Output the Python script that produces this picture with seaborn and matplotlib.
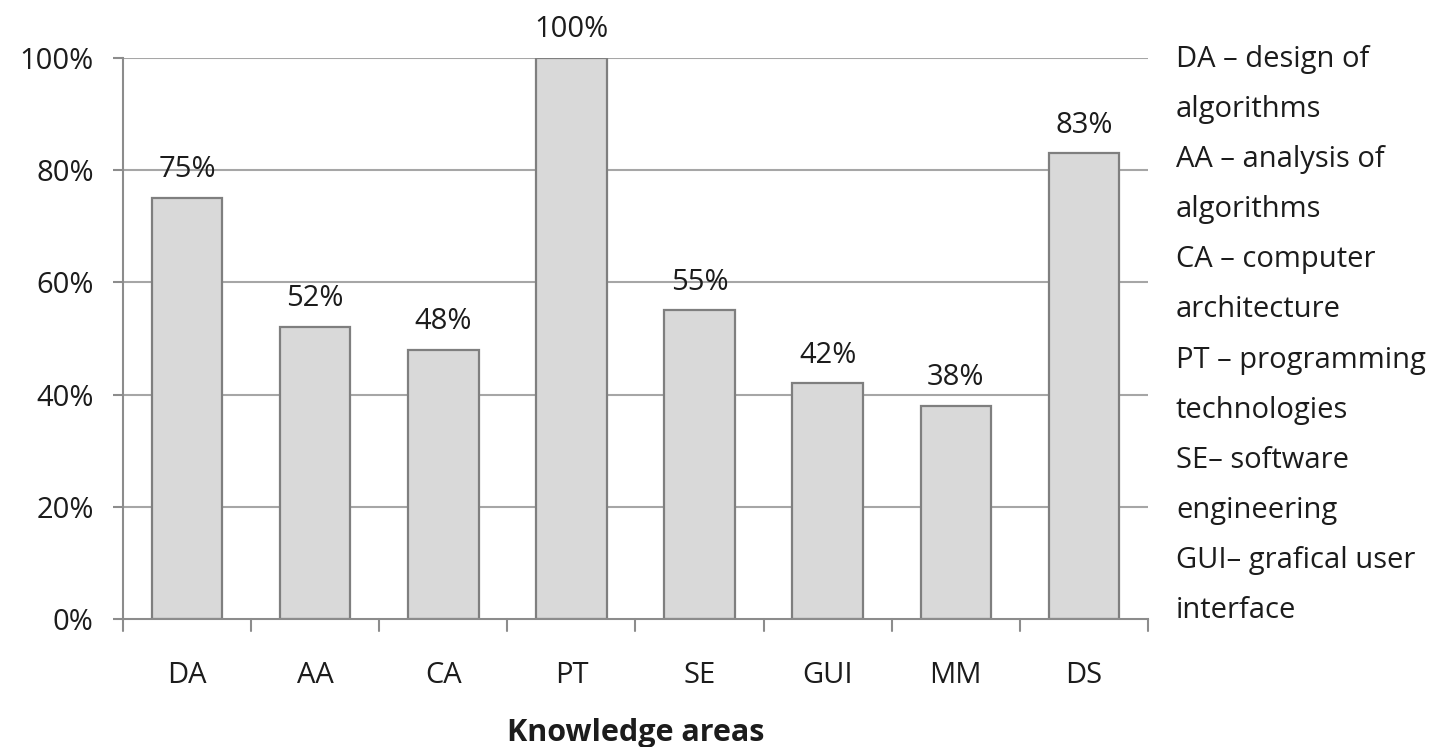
import matplotlib
matplotlib.use("Agg")
import matplotlib.pyplot as plt
import seaborn as sns
import pandas as pd

areas = ["DA", "AA", "CA", "PT", "SE", "GUI", "MM", "DS"]
shares = [75, 52, 48, 100, 55, 42, 38, 83]
y_ticks = [0, 20, 40, 60, 80, 100]
key_lines = [
    "DA \u2013 design of", "algorithms",
    "AA \u2013 analysis of", "algorithms",
    "CA \u2013 computer", "architecture",
    "PT \u2013 programming", "technologies",
    "SE\u2013 software", "engineering",
    "GUI\u2013 grafical user", "interface",
]

sns.set_theme(style="white")
plt.rcParams["font.family"] = ["Open Sans", "DejaVu Sans"]

TEXT = "#1c1c1c"
FS = 21

df = pd.DataFrame({"area": areas, "share": shares})

fig = plt.figure(figsize=(14.33, 7.47), dpi=100)
ax = fig.add_axes([0.0858, 0.1714, 0.7153, 0.7510])

sns.barplot(data=df, x="area", y="share", color="#d9d9d9", edgecolor="#7f7f7f",
            linewidth=1.6, width=0.55, saturation=1, ax=ax, zorder=3)

ax.set_ylim(0, 100)
ax.set_xlim(-0.5, len(areas) - 0.5)
ax.set_yticks(y_ticks)
ax.set_yticklabels([f"{v}%" for v in y_ticks], fontsize=FS, color=TEXT)
ax.tick_params(axis="x", labelsize=FS, colors=TEXT, length=0, pad=30)
ax.tick_params(axis="y", length=7, width=1.5, color="#8c8c8c", left=True, pad=14)

# horizontal gridlines
for v in y_ticks[1:]:
    ax.axhline(v, color="#a6a6a6", linewidth=1.5, zorder=1)

# category boundary ticks below the x axis
for b in range(len(areas) + 1):
    ax.plot([b - 0.5, b - 0.5], [0, -2.2], color="#8c8c8c", lw=1.5,
            clip_on=False, zorder=4)

for side in ["top", "right"]:
    ax.spines[side].set_visible(False)
ax.spines["left"].set_color("#8c8c8c")
ax.spines["left"].set_linewidth(1.5)
ax.spines["bottom"].set_color("#8c8c8c")
ax.spines["bottom"].set_linewidth(1.5)
ax.spines["bottom"].set_zorder(5)

for i, v in enumerate(shares):
    ax.annotate(f"{v}%", (i, v), xytext=(0, 15), textcoords="offset points",
                ha="center", va="baseline", fontsize=FS, color=TEXT)

ax.set_xlabel("")
ax.set_ylabel("")
fig.text(635.5 / 1433, 1 - 741 / 747, "Knowledge areas", fontsize=22,
         fontweight="bold", color=TEXT, ha="center", va="baseline")

for k, line in enumerate(key_lines):
    fig.text(1176 / 1433, 1 - (67 + 50.1 * k) / 747, line, fontsize=FS,
             color=TEXT, ha="left", va="baseline")

fig.savefig("out.png", dpi=100, facecolor="white")
